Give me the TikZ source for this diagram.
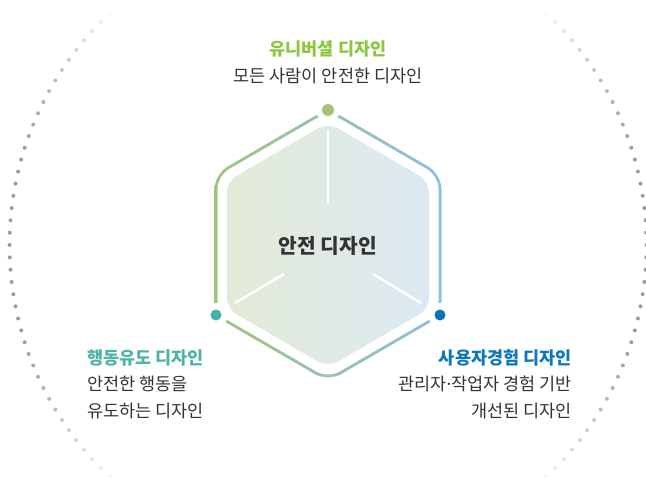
\documentclass[tikz,border=0pt]{standalone}
\usepackage{fontspec}
\setmainfont{Noto Sans CJK KR}
\newfontfamily\latinfont{Noto Sans}
\definecolor{dotgray}{HTML}{9B9CA1}
\definecolor{ringL}{HTML}{A2C47C}
\definecolor{ringM}{HTML}{9DC6BE}
\definecolor{ringR}{HTML}{8EC0E0}
\definecolor{fillL}{HTML}{E3EBD7}
\definecolor{fillM}{HTML}{E0EAE6}
\definecolor{fillR}{HTML}{DCE9F3}
\definecolor{cGreen}{HTML}{8CC63F}
\definecolor{cTeal}{HTML}{4DB3A8}
\definecolor{cBlue}{HTML}{0B78BA}
\definecolor{dGreen}{HTML}{A3C47A}
\definecolor{dTeal}{HTML}{45B0A6}
\definecolor{dBlue}{HTML}{0A72B5}
\definecolor{txt}{HTML}{333333}
\tikzset{
  hexpath/.style 2 args={insert path={
    [rounded corners=#2] ({216-(#1)},245) -- ({216-(#1)},{175-0.577*(#1)}) -- (328,{110-1.155*(#1)})
    -- ({440+(#1)},{175-0.577*(#1)}) -- ({440+(#1)},{315+0.577*(#1)}) -- (328,{380+1.155*(#1)})
    -- ({216-(#1)},{315+0.577*(#1)}) -- cycle}},
  head/.style={inner sep=0pt, font=\fontsize{17.5}{21}\selectfont\bfseries},
  body/.style={inner sep=0pt, text=txt, font=\fontsize{17.5}{21}\selectfont},
  vdot/.style={circle, inner sep=0pt, minimum size=#1},
  whiteline/.style={white, line width=2.5pt}
}
\begin{document}
\begin{tikzpicture}[x=1pt,y=-1pt]
\useasboundingbox (0,0) rectangle (646,488);
\fill[white] (0,0) rectangle (646,488);
% dotted circle
\begin{scope}
\clip (0,0) rectangle (646,488);
\foreach \i in {0,...,161}{
  \pgfmathsetmacro\myang{\i/162*360}
  \pgfmathsetmacro\mycos{abs(cos(\myang))}
  \pgfmathtruncatemacro\mypct{max(0,min(100,(\mycos-0.66)/0.3*100))}
  \fill[dotgray!\mypct!white] ({328+318.5*cos(\myang)},{245+318.5*sin(\myang)}) circle (2);
}
\end{scope}
% outline ring
\shade[left color=ringL, middle color=ringM, right color=ringR, hexpath={1.5}{15}];
\fill[white, hexpath={-1.5}{13}];
% gaps at the three marked vertices
\fill[white] (328,110) circle (12);
\fill[white] (216,315) circle (12);
\fill[white] (440,315) circle (12);
% inner hexagon
\shade[left color=fillL, middle color=fillM, right color=fillR, hexpath={-11}{11}];
% white spokes
\draw[whiteline] (328,130) -- (328,203);
\draw[whiteline] (284,274) -- (235,303);
\draw[whiteline] (373,274) -- (421,303);
% vertex dots
\node[vdot=12pt, fill=dGreen] (vtop) at (328,110) {};
\node[vdot=11pt, fill=dTeal] (vleft) at (216,315) {};
\node[vdot=11pt, fill=dBlue] (vright) at (440,315) {};
% centre
\node[inner sep=0pt, anchor=base, text=txt, font=\fontsize{20.3}{24}\selectfont\bfseries] (center) at (328,253) {안전 디자인};
% top
\node[head, text=cGreen, anchor=base] (th) at (328,55) {유니버셜 디자인};
\node[body, anchor=base] (tb) at (328,82) {모든 사람이 안전한 디자인};
% left
\node[head, text=cTeal, anchor=base west] (lh) at (87,364) {행동유도 디자인};
\node[body, anchor=base west] (lb1) at (87,390.5) {안전한 행동을};
\node[body, anchor=base west] (lb2) at (87,417) {유도하는 디자인};
% right
\node[head, text=cBlue, anchor=base east] (rh) at (572,364) {사용자경험 디자인};
\node[body, anchor=base east] (rb1) at (572,390.5) {관리자{\latinfont ·}작업자 경험 기반};
\node[body, anchor=base east] (rb2) at (572,417) {개선된 디자인};
\end{tikzpicture}
\end{document}
